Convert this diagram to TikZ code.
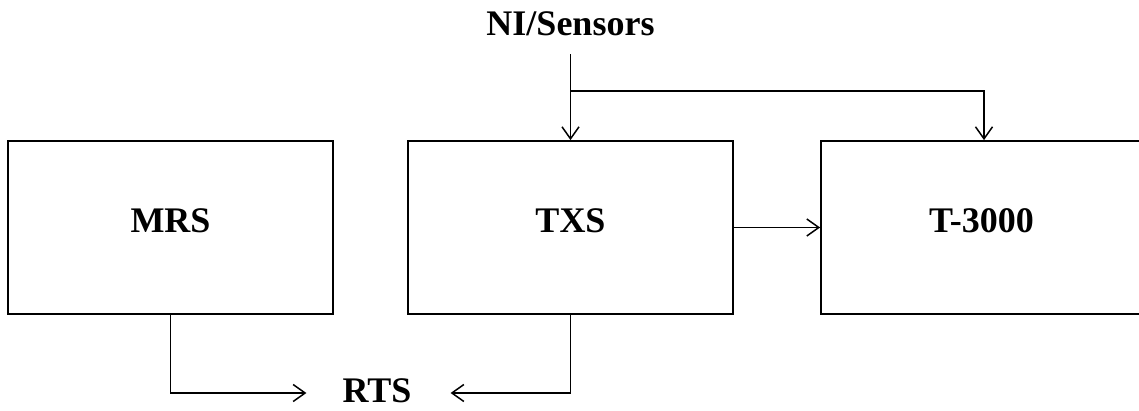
\documentclass[tikz,border=0pt]{standalone}
\usepackage{fontspec}
\setmainfont{Liberation Serif}
\usetikzlibrary{arrows.meta}
\begin{document}
\begin{tikzpicture}[x=1pt,y=-1pt,
  txt/.style={font=\bfseries\fontsize{36}{40}\selectfont},
  blk/.style={txt, draw, line width=1.8pt, minimum width=325pt, minimum height=173pt, inner sep=0pt, text depth=14pt},
  lbl/.style={txt, inner sep=0pt, text height=20pt, text depth=0pt},
  con/.style={line width=1.5pt, -{Straight Barb[length=12pt,width=17pt]}}]
\useasboundingbox (0,0) rectangle (1139,410);
\node[blk] (MRS) at (170.5,227.5) {MRS};
\node[blk] (TXS) at (570.5,227.5) {TXS};
\node[blk, minimum width=321pt] (T3) at (981.5,227.5) {T-3000};
\node[lbl, anchor=base] (NI) at (570.5,35) {NI/Sensors};
\node[lbl, anchor=base, text height=18pt] (RTS) at (377,402) {RTS};
\coordinate (J) at (570.5,91);
\draw[con] ([yshift=-19pt]NI.south) -- (TXS.north);
\draw[con] (J) -| ([xshift=2.5pt]T3.north);
\draw[con] (TXS.east) -- (T3.west);
\draw[con] (MRS.south) |- ([xshift=-36pt]RTS.west);
\draw[con] (TXS.south) |- ([xshift=39pt]RTS.east);
\end{tikzpicture}
\end{document}
